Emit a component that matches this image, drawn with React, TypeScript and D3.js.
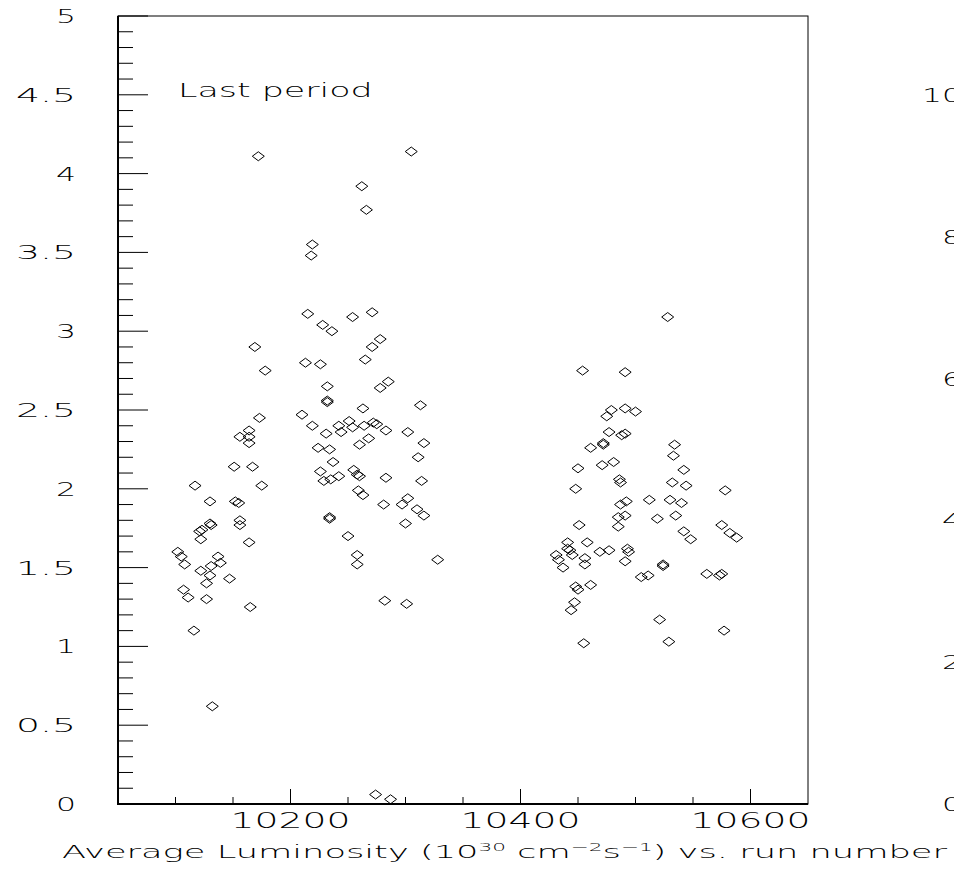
import React, { useEffect, useRef } from "react";
import * as d3 from "d3";

// first group of runs (10100 - 10330)
const block1Runs = [
  10102, 10105, 10108, 10107, 10111, 10116, 10117, 10121, 10123, 10122, 10122, 10127, 10127,
  10130, 10130, 10131, 10131, 10130, 10132, 10137, 10139, 10147, 10151, 10152, 10155, 10156,
  10156, 10156, 10164, 10164, 10164, 10164, 10165, 10167, 10169, 10172, 10173, 10175, 10178,
  10210, 10215, 10213, 10218, 10219, 10219, 10224, 10226, 10229, 10226, 10228, 10231, 10232,
  10232, 10232, 10234, 10235, 10234, 10234, 10236, 10237, 10242, 10242, 10244, 10250, 10251,
  10254, 10254, 10255, 10258, 10260, 10258, 10258, 10259, 10263, 10260, 10262, 10263, 10264,
  10265, 10266, 10268, 10271, 10271, 10272, 10275, 10278, 10278, 10285, 10283, 10283, 10281,
  10282, 10274, 10287, 10297, 10302, 10300, 10301, 10302, 10305, 10310, 10311, 10313, 10314,
  10316, 10316, 10328,
];
const block1Lumi = [
  1.6, 1.57, 1.52, 1.36, 1.31, 1.1, 2.02, 1.73, 1.74, 1.68, 1.48, 1.4, 1.3,
  1.92, 1.78, 1.77, 1.51, 1.45, 0.62, 1.57, 1.53, 1.43, 2.14, 1.92, 1.91, 1.8,
  1.77, 2.33, 2.37, 2.33, 2.29, 1.66, 1.25, 2.14, 2.9, 4.11, 2.45, 2.02, 2.75,
  2.47, 3.11, 2.8, 3.48, 3.55, 2.4, 2.26, 2.11, 2.05, 2.79, 3.04, 2.35, 2.56,
  2.55, 2.65, 2.25, 2.06, 1.82, 1.81, 3.0, 2.17, 2.4, 2.08, 2.36, 1.7, 2.43,
  2.39, 3.09, 2.12, 2.09, 2.08, 1.58, 1.52, 1.99, 1.96, 2.28, 3.92, 2.51, 2.4,
  2.82, 3.77, 2.32, 3.12, 2.9, 2.42, 2.41, 2.95, 2.64, 2.68, 2.37, 2.07, 1.9,
  1.29, 0.06, 0.03, 1.9, 1.94, 1.78, 1.27, 2.36, 4.14, 1.87, 2.2, 2.53, 2.05,
  2.29, 1.83, 1.55,
];

// second group of runs (10430 - 10590)
const block2Runs = [
  10431, 10433, 10437, 10441, 10441, 10443, 10445, 10444, 10447, 10448, 10450, 10448, 10450,
  10451, 10454, 10455, 10456, 10456, 10458, 10461, 10461, 10469, 10471, 10472, 10472, 10475,
  10479, 10477, 10477, 10481, 10486, 10487, 10485, 10485, 10487, 10488, 10491, 10491, 10491,
  10492, 10491, 10493, 10494, 10491, 10500, 10505, 10511, 10512, 10519, 10521, 10524, 10524,
  10528, 10529, 10530, 10532, 10534, 10533, 10535, 10540, 10542, 10542, 10544, 10548, 10562,
  10573, 10575, 10575, 10577, 10578, 10582, 10588,
];
const block2Lumi = [
  1.58, 1.55, 1.5, 1.66, 1.62, 1.61, 1.58, 1.23, 1.28, 1.38, 1.36, 2.0, 2.13,
  1.77, 2.75, 1.02, 1.56, 1.52, 1.66, 1.39, 2.26, 1.6, 2.15, 2.29, 2.28, 2.46,
  2.5, 1.61, 2.36, 2.17, 2.06, 2.04, 1.82, 1.76, 1.9, 2.34, 2.35, 2.51, 2.74,
  1.92, 1.83, 1.62, 1.6, 1.54, 2.49, 1.44, 1.45, 1.93, 1.81, 1.17, 1.52, 1.51,
  3.09, 1.03, 1.93, 2.04, 2.28, 2.21, 1.83, 1.91, 2.12, 1.73, 2.02, 1.68, 1.46,
  1.45, 1.46, 1.77, 1.1, 1.99, 1.72, 1.69,
];

const xMajorLabels = [10200, 10400, 10600];
const yLabels = ["0", "0.5", "1", "1.5", "2", "2.5", "3", "3.5", "4", "4.5", "5"];
const rightPanelLabels = ["0", "2", "4", "6", "8", "10"];

const width = 954;
const height = 869;
const font = "'DejaVu Sans', sans-serif";

const LumiChart = () => {
  const svgRef = useRef<SVGSVGElement>(null);

  useEffect(() => {
    const svg = d3.select(svgRef.current);
    svg.selectAll("*").remove();

    const x = d3.scaleLinear().domain([10050, 10650]).range([118, 808]);
    const y = d3.scaleLinear().domain([0, 5]).range([804, 16]);
    const yRight = d3.scaleLinear().domain([0, 10]).range([804, 95]);

    svg.append("rect").attr("width", width).attr("height", height).attr("fill", "white");

    // frame
    svg
      .append("rect")
      .attr("x", x(10050))
      .attr("y", y(5))
      .attr("width", x(10650) - x(10050))
      .attr("height", y(0) - y(5))
      .attr("fill", "none")
      .attr("stroke", "black")
      .attr("stroke-width", 1);
    svg
      .append("path")
      .attr("d", `M${x(10050)},${y(5)} V${y(0)} H${x(10650)}`)
      .attr("fill", "none")
      .attr("stroke", "black")
      .attr("stroke-width", 2);

    // y ticks (inside, every 0.1, longer at 0.5)
    const yTicks = d3.range(0, 51).map((i) => i / 10);
    svg
      .selectAll(".ytick")
      .data(yTicks)
      .enter()
      .append("line")
      .attr("x1", x(10050))
      .attr("x2", (d, i) => x(10050) + (i % 5 === 0 ? 30 : 15))
      .attr("y1", (d) => y(d))
      .attr("y2", (d) => y(d))
      .attr("stroke", "black")
      .attr("stroke-width", 1);

    // x ticks (inside, every 50 runs, longer at 200)
    const xTicks = d3.range(10100, 10601, 50);
    svg
      .selectAll(".xtick")
      .data(xTicks)
      .enter()
      .append("line")
      .attr("x1", (d) => x(d))
      .attr("x2", (d) => x(d))
      .attr("y1", y(0))
      .attr("y2", (d) => y(0) - (d % 200 === 0 ? 15 : 7))
      .attr("stroke", "black")
      .attr("stroke-width", 1);

    const label = (
      tx: number,
      ty: number,
      txt: string,
      anchor: string,
      pitch: number,
      size: number
    ) =>
      svg
        .append("text")
        .attr("x", tx)
        .attr("y", ty)
        .attr("text-anchor", anchor)
        .attr("font-family", font)
        .attr("font-weight", 200)
        .attr("font-size", size)
        .attr("textLength", txt.length * pitch)
        .attr("lengthAdjust", "spacingAndGlyphs")
        .attr("fill", "black")
        .text(txt);

    yLabels.forEach((t) => label(76, y(+t) + 7, t, "end", 20, 20));
    xMajorLabels.forEach((t) => label(x(t), 828, String(t), "middle", 24, 21));
    // axis of the neighbouring panel, cut off by the page edge
    rightPanelLabels.forEach((t) => label(962, yRight(+t) + 7, t, "end", 20, 20));

    label(178, 97, "Last period", "start", 17.7, 20);

    // x axis title with superscripts
    const title = svg
      .append("text")
      .attr("x", 62)
      .attr("y", 858)
      .attr("font-family", font)
      .attr("font-weight", 200)
      .attr("font-size", 18)
      .attr("textLength", 885)
      .attr("lengthAdjust", "spacingAndGlyphs")
      .attr("fill", "black");
    title.append("tspan").text("Average Luminosity (10");
    title.append("tspan").attr("font-size", 11).attr("dy", -7).text("30");
    title.append("tspan").attr("dy", 7).text(" cm");
    title.append("tspan").attr("font-size", 11).attr("dy", -7).text("\u22122");
    title.append("tspan").attr("dy", 7).text("s");
    title.append("tspan").attr("font-size", 11).attr("dy", -7).text("\u22121");
    title.append("tspan").attr("dy", 7).text(") vs. run number");

    // markers
    const points = [
      ...block1Runs.map((r, i) => ({ run: r, lumi: block1Lumi[i] })),
      ...block2Runs.map((r, i) => ({ run: r, lumi: block2Lumi[i] })),
    ];
    svg
      .selectAll(".point")
      .data(points)
      .enter()
      .append("path")
      .attr("d", "M-6,0 L0,-4.5 L6,0 L0,4.5 Z")
      .attr("transform", (d) => `translate(${x(d.run)},${y(d.lumi)})`)
      .attr("fill", "none")
      .attr("stroke", "black")
      .attr("stroke-width", 1);
  }, []);

  return (
    <svg
      ref={svgRef}
      width={width}
      height={height}
      style={{ position: "absolute", left: 0, top: 0, display: "block" }}
    ></svg>
  );
};

export default function App() {
  return <LumiChart />;
}
